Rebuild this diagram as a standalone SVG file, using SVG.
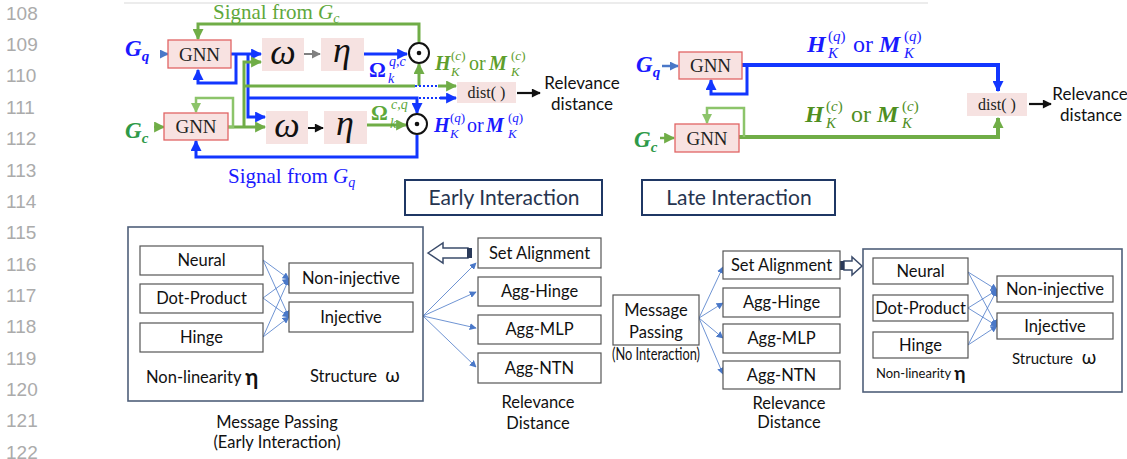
<svg xmlns="http://www.w3.org/2000/svg" width="1127" height="459" viewBox="0 0 1127 459">
<style>
.ln{font-family:"Liberation Sans",Arial,sans-serif;font-size:19px;fill:#ababab}
.gnnbox{fill:#f8e2e1;stroke:#e06464;stroke-width:1.3}
.opbox{fill:#f6e2e1}
.gnn{font-family:"Liberation Serif",serif;font-size:19px;fill:#222;text-anchor:middle}
.greek{font-family:"Liberation Serif",serif;font-style:italic;font-size:36px;fill:#111;text-anchor:middle}
.blue{fill:none;stroke:#1236ff;stroke-width:3}
.green{fill:none;stroke:#70ad47;stroke-width:3}
.lgreen{fill:none;stroke:#8cc46a;stroke-width:2.5}
.bluethick{fill:none;stroke:#1236ff;stroke-width:4}
.greenthick{fill:none;stroke:#70ad47;stroke-width:4}
.sans{font-family:Lato,"Open Sans",sans-serif;fill:#111}
.box{fill:#fff;stroke:#555;stroke-width:1.2}
.frame{fill:none;stroke:#4f5f7a;stroke-width:1.6}
.thin{fill:none;stroke:#4a78c8;stroke-width:0.8}
.lbl{font-family:Lato,"Open Sans",sans-serif;font-size:16.5px;fill:#111;text-anchor:middle}
.hdr{font-family:Lato,"Open Sans",sans-serif;font-size:21px;fill:#26344f;text-anchor:middle}
</style>
<defs>
<marker id="ab" viewBox="0 0 10 10" refX="9" refY="5" markerUnits="userSpaceOnUse" markerWidth="11" markerHeight="11" orient="auto"><path d="M0,0 L10,5 L0,10 z" fill="#1236ff"/></marker>
<marker id="ag" viewBox="0 0 10 10" refX="9" refY="5" markerUnits="userSpaceOnUse" markerWidth="11" markerHeight="11" orient="auto"><path d="M0,0 L10,5 L0,10 z" fill="#70ad47"/></marker>
<marker id="alg" viewBox="0 0 10 10" refX="9" refY="5" markerUnits="userSpaceOnUse" markerWidth="10" markerHeight="10" orient="auto"><path d="M0,0 L10,5 L0,10 z" fill="#8cc46a"/></marker>
<marker id="ak" viewBox="0 0 10 10" refX="9" refY="5" markerUnits="userSpaceOnUse" markerWidth="10" markerHeight="9" orient="auto"><path d="M0,0 L10,5 L0,10 z" fill="#111"/></marker>
<marker id="agr" viewBox="0 0 10 10" refX="9" refY="5" markerUnits="userSpaceOnUse" markerWidth="9" markerHeight="9" orient="auto"><path d="M0,0 L10,5 L0,10 z" fill="#808080"/></marker>
<marker id="as" viewBox="0 0 10 10" refX="9" refY="5" markerUnits="userSpaceOnUse" markerWidth="9" markerHeight="9" orient="auto"><path d="M0,0 L10,5 L0,10 z" fill="#4a78c8"/></marker>
<marker id="at" viewBox="0 0 10 10" refX="9" refY="5" markerUnits="userSpaceOnUse" markerWidth="7" markerHeight="7" orient="auto"><path d="M0,0 L10,5 L0,10 z" fill="#4a78c8"/></marker>
</defs>

<rect width="1127" height="459" fill="#fff"/>
<line x1="124" y1="3" x2="928" y2="3" stroke="#ececec" stroke-width="2"/>

<g id="line-numbers">
<text class="ln" x="6" y="20">108</text>
<text class="ln" x="6" y="51">109</text>
<text class="ln" x="6" y="82">110</text>
<text class="ln" x="6" y="114">111</text>
<text class="ln" x="6" y="145">112</text>
<text class="ln" x="6" y="177">113</text>
<text class="ln" x="6" y="208">114</text>
<text class="ln" x="6" y="239">115</text>
<text class="ln" x="6" y="271">116</text>
<text class="ln" x="6" y="302">117</text>
<text class="ln" x="6" y="333">118</text>
<text class="ln" x="6" y="365">119</text>
<text class="ln" x="6" y="396">120</text>
<text class="ln" x="6" y="427">121</text>
<text class="ln" x="6" y="459">122</text>
</g>

<!-- ================= Top-left: early interaction pipeline ================= -->
<g id="tl-connectors">
<path class="green" d="M419,42 V24 H198 V39" marker-end="url(#ag)"/>
<line x1="160" y1="54" x2="168" y2="54" stroke="#4a78c8" stroke-width="2.5" marker-end="url(#as)"/>
<line class="blue" x1="231" y1="54" x2="261" y2="54" marker-end="url(#ab)"/>
<path class="blue" d="M236,54 V83 H198 V70" marker-end="url(#ab)"/>
<path class="blue" d="M248,54 V117 H265" marker-end="url(#ab)"/>
<path class="blue" d="M248,98 H417 V113" marker-end="url(#ab)"/>
<line x1="419" y1="98" x2="440" y2="98" stroke="#1236ff" stroke-width="2" stroke-dasharray="2,2"/>
<line class="blue" x1="440" y1="98" x2="456" y2="98" marker-end="url(#ab)"/>
<path class="green" d="M244,127 V62 H261" marker-end="url(#ag)"/>
<path class="green" d="M244,86 H415"/>
<line class="green" x1="419" y1="86" x2="419" y2="64" marker-end="url(#ag)"/>
<line x1="415" y1="86" x2="438" y2="86" stroke="#1236ff" stroke-width="2" stroke-dasharray="2,2"/>
<line class="green" x1="438" y1="86" x2="456" y2="86" marker-end="url(#ag)"/>
<line x1="304" y1="54" x2="320" y2="54" stroke="#808080" stroke-width="2" marker-end="url(#agr)"/>
<line x1="308" y1="128" x2="323" y2="128" stroke="#111" stroke-width="2" marker-end="url(#ak)"/>
<line class="blue" x1="364" y1="54" x2="407" y2="54" marker-end="url(#ab)"/>
<line class="green" x1="367" y1="125" x2="406" y2="125" marker-end="url(#ag)"/>
<line x1="154" y1="127" x2="164" y2="127" stroke="#70ad47" stroke-width="2.5" marker-end="url(#ag)"/>
<line class="green" x1="228" y1="127" x2="265" y2="127" marker-end="url(#ag)"/>
<path class="lgreen" d="M228,127 H233 V98 H196 V112" marker-end="url(#alg)"/>
<path class="blue" d="M417,135 V157 H196 V141" marker-end="url(#ab)"/>
<line x1="517" y1="93" x2="540" y2="93" stroke="#111" stroke-width="2.2" marker-end="url(#ak)"/>
</g>

<g id="tl-signal-gc"><text x="213" y="19" font-family="Liberation Serif" font-size="21" fill="#5fa83c">Signal from <tspan font-style="italic">G</tspan><tspan font-size="14" font-style="italic" dy="4">c</tspan></text></g>
<g id="tl-gq"><text x="125" y="56" font-family="Liberation Serif" font-size="23" font-weight="bold" font-style="italic" fill="#1a1aff">G<tspan font-size="15" dy="5">q</tspan></text></g>
<g id="tl-gnn-q"><rect class="gnnbox" x="168" y="40" width="63" height="28"/><text class="gnn" x="199.5" y="61">GNN</text></g>
<g id="tl-omega-q"><rect class="opbox" x="262" y="38" width="42" height="33"/><text class="greek" x="283" y="64">ω</text></g>
<g id="tl-eta-q"><rect class="opbox" x="321" y="38" width="43" height="33"/><text class="greek" x="342" y="62">η</text></g>
<g id="tl-odot-top"><circle cx="419" cy="53" r="10" fill="#fff" stroke="#111" stroke-width="2"/><circle cx="419" cy="53" r="2.3" fill="#111"/></g>
<g id="tl-omega-qc-label"><text x="369" y="77" font-family="Liberation Serif" font-size="21" font-weight="bold" fill="#1a1aff">Ω<tspan x="389" y="66" font-size="14" font-style="italic" font-weight="normal">q,c</tspan><tspan x="388" y="83" font-size="14" font-style="italic" font-weight="normal">k</tspan></text></g>
<g id="tl-hc-label"><text x="435" y="70" font-family="Liberation Serif" font-size="20" fill="#5e9e2c"><tspan font-weight="bold" font-style="italic">H</tspan><tspan x="451" y="60" font-size="13">(<tspan font-style="italic">c</tspan>)</tspan><tspan x="451" y="76" font-size="13" font-style="italic">K</tspan><tspan x="469" y="70">or</tspan><tspan x="489" y="70" font-weight="bold" font-style="italic">M</tspan><tspan x="511" y="60" font-size="13">(<tspan font-style="italic">c</tspan>)</tspan><tspan x="511" y="76" font-size="13" font-style="italic">K</tspan></text></g>
<g id="tl-dist"><rect class="opbox" x="457" y="82" width="59" height="21"/><text x="486.5" y="98" font-family="Liberation Serif" font-size="16" fill="#222" text-anchor="middle">dist( )</text></g>
<g id="tl-relevance"><text class="sans" x="582" y="89" font-size="17" text-anchor="middle">Relevance</text><text class="sans" x="582" y="110" font-size="17" text-anchor="middle">distance</text></g>
<g id="tl-gc"><text x="125" y="138" font-family="Liberation Serif" font-size="23" font-weight="bold" font-style="italic" fill="#2e9a48">G<tspan font-size="15" dy="5">c</tspan></text></g>
<g id="tl-gnn-c"><rect class="gnnbox" x="164" y="113" width="64" height="27"/><text class="gnn" x="196" y="133">GNN</text></g>
<g id="tl-omega-c"><rect class="opbox" x="266" y="111" width="42" height="33"/><text class="greek" x="287" y="137">ω</text></g>
<g id="tl-eta-c"><rect class="opbox" x="324" y="111" width="43" height="33"/><text class="greek" x="345" y="135">η</text></g>
<g id="tl-odot-bottom"><circle cx="417" cy="124" r="10" fill="#fff" stroke="#111" stroke-width="2"/><circle cx="417" cy="124" r="2.3" fill="#111"/></g>
<g id="tl-omega-cq-label"><text x="371" y="120" font-family="Liberation Serif" font-size="21" font-weight="bold" fill="#5ea83a">Ω<tspan x="391" y="109" font-size="14" font-style="italic" font-weight="normal">c,q</tspan><tspan x="390" y="128" font-size="14" font-style="italic" font-weight="normal">k</tspan></text></g>
<g id="tl-hq-label"><text x="434" y="132" font-family="Liberation Serif" font-size="20" fill="#1a1aff"><tspan font-weight="bold" font-style="italic">H</tspan><tspan x="450" y="122" font-size="13">(<tspan font-style="italic">q</tspan>)</tspan><tspan x="450" y="138" font-size="13" font-style="italic">K</tspan><tspan x="467" y="132">or</tspan><tspan x="486" y="132" font-weight="bold" font-style="italic">M</tspan><tspan x="508" y="122" font-size="13">(<tspan font-style="italic">q</tspan>)</tspan><tspan x="508" y="138" font-size="13" font-style="italic">K</tspan></text></g>
<g id="tl-signal-gq"><text x="228" y="183" font-family="Liberation Serif" font-size="21" fill="#1a1aff">Signal from <tspan font-style="italic">G</tspan><tspan font-size="14" font-style="italic" dy="4">q</tspan></text></g>

<!-- ================= Top-right: late interaction ================= -->
<g id="tr-connectors">
<line x1="662" y1="66" x2="678" y2="66" stroke="#4a78c8" stroke-width="2.5" marker-end="url(#as)"/>
<path class="bluethick" d="M742,65 H998 V91" marker-end="url(#ab)"/>
<path class="blue" d="M747,65 V94 H711 V80" marker-end="url(#ab)"/>
<line x1="660" y1="138" x2="674" y2="138" stroke="#70ad47" stroke-width="2.5" marker-end="url(#ag)"/>
<path class="greenthick" d="M739,137 H998 V118" marker-end="url(#ag)"/>
<path class="lgreen" d="M744,137 V108 H707 V123" marker-end="url(#alg)"/>
<line x1="1029" y1="104" x2="1051" y2="104" stroke="#111" stroke-width="2.2" marker-end="url(#ak)"/>
</g>
<g id="tr-gq"><text x="636" y="72" font-family="Liberation Serif" font-size="23" font-weight="bold" font-style="italic" fill="#1a1aff">G<tspan font-size="15" dy="5">q</tspan></text></g>
<g id="tr-gnn-q"><rect class="gnnbox" x="679" y="52" width="63" height="27"/><text class="gnn" x="710.5" y="72">GNN</text></g>
<g id="tr-hq-label"><text x="807" y="52" font-family="Liberation Serif" font-size="24" fill="#1a1aff"><tspan font-weight="bold" font-style="italic">H</tspan><tspan x="828" y="41" font-size="15">(<tspan font-style="italic">q</tspan>)</tspan><tspan x="828" y="58" font-size="15" font-style="italic">K</tspan><tspan x="853" y="52">or</tspan><tspan x="879" y="52" font-weight="bold" font-style="italic">M</tspan><tspan x="904" y="41" font-size="15">(<tspan font-style="italic">q</tspan>)</tspan><tspan x="904" y="58" font-size="15" font-style="italic">K</tspan></text></g>
<g id="tr-gc"><text x="634" y="147" font-family="Liberation Serif" font-size="23" font-weight="bold" font-style="italic" fill="#2e9a48">G<tspan font-size="15" dy="5">c</tspan></text></g>
<g id="tr-gnn-c"><rect class="gnnbox" x="675" y="124" width="64" height="28"/><text class="gnn" x="707" y="145">GNN</text></g>
<g id="tr-hc-label"><text x="805" y="122" font-family="Liberation Serif" font-size="24" fill="#4f8f1f"><tspan font-weight="bold" font-style="italic">H</tspan><tspan x="826" y="111" font-size="15">(<tspan font-style="italic">c</tspan>)</tspan><tspan x="826" y="128" font-size="15" font-style="italic">K</tspan><tspan x="851" y="122">or</tspan><tspan x="877" y="122" font-weight="bold" font-style="italic">M</tspan><tspan x="902" y="111" font-size="15">(<tspan font-style="italic">c</tspan>)</tspan><tspan x="902" y="128" font-size="15" font-style="italic">K</tspan></text></g>
<g id="tr-dist"><rect class="opbox" x="967" y="93" width="60" height="23"/><text x="997" y="110" font-family="Liberation Serif" font-size="16" fill="#222" text-anchor="middle">dist( )</text></g>
<g id="tr-relevance"><text class="sans" x="1090" y="100" font-size="17" text-anchor="middle">Relevance</text><text class="sans" x="1091" y="121" font-size="17" text-anchor="middle">distance</text></g>

<!-- ================= Headers ================= -->
<g id="early-interaction"><rect x="405" y="180" width="197" height="35" fill="#fff" stroke="#1f3764" stroke-width="2"/><text class="hdr" x="504" y="205">Early Interaction</text></g>
<g id="late-interaction"><rect x="642" y="180" width="193" height="35" fill="#fff" stroke="#1f3764" stroke-width="2"/><text class="hdr" x="739" y="205">Late Interaction</text></g>

<!-- ================= Bottom-left: early interaction taxonomy ================= -->
<g id="bl-connectors">
<line class="thin" x1="263" y1="260" x2="289" y2="279" marker-end="url(#at)"/>
<line class="thin" x1="263" y1="260" x2="289" y2="317" marker-end="url(#at)"/>
<line class="thin" x1="263" y1="298" x2="289" y2="279" marker-end="url(#at)"/>
<line class="thin" x1="263" y1="298" x2="289" y2="317" marker-end="url(#at)"/>
<line class="thin" x1="263" y1="337" x2="289" y2="279" marker-end="url(#at)"/>
<line class="thin" x1="263" y1="337" x2="289" y2="317" marker-end="url(#at)"/>
<line class="thin" x1="423" y1="316" x2="476" y2="263" marker-end="url(#at)"/>
<line class="thin" x1="423" y1="316" x2="476" y2="292" marker-end="url(#at)"/>
<line class="thin" x1="423" y1="316" x2="476" y2="328" marker-end="url(#at)"/>
<line class="thin" x1="423" y1="316" x2="476" y2="367" marker-end="url(#at)"/>
<path d="M428,253 L443,243 V248 H468 V258 H443 V263 Z" fill="#fff" stroke="#3b4c6b" stroke-width="1.5"/>
<rect x="467" y="248" width="5" height="10" fill="#2a3a5a"/>
</g>
<g id="bl-frame"><rect class="frame" x="128" y="227" width="295" height="174"/></g>
<g id="bl-neural"><rect class="box" x="140" y="246" width="123" height="29"/><text class="lbl" x="201.5" y="266">Neural</text></g>
<g id="bl-dot"><rect class="box" x="140" y="284" width="123" height="29"/><text class="lbl" x="201.5" y="304">Dot-Product</text></g>
<g id="bl-hinge"><rect class="box" x="140" y="323" width="123" height="29"/><text class="lbl" x="201.5" y="343">Hinge</text></g>
<g id="bl-noninj"><rect class="box" x="289" y="263" width="124" height="30"/><text class="lbl" x="351" y="284">Non-injective</text></g>
<g id="bl-inj"><rect class="box" x="289" y="302" width="124" height="30"/><text class="lbl" x="351" y="323">Injective</text></g>
<g id="bl-nonlin"><text class="sans" x="146" y="383" font-size="16.5">Non-linearity <tspan font-size="22" font-weight="bold" dy="2">η</tspan></text></g>
<g id="bl-structure"><text class="sans" x="310" y="382" font-size="16.5">Structure <tspan dx="4" font-size="19">ω</tspan></text></g>
<g id="bl-caption"><text class="lbl" x="277" y="428">Message Passing</text><text class="lbl" x="277" y="448">(Early Interaction)</text></g>
<g id="bl-setalign"><rect class="box" x="478" y="238" width="123" height="30"/><text class="lbl" x="539.5" y="259">Set Alignment</text></g>
<g id="bl-agghinge"><rect class="box" x="478" y="277" width="123" height="29"/><text class="lbl" x="539.5" y="297">Agg-Hinge</text></g>
<g id="bl-aggmlp"><rect class="box" x="478" y="315" width="123" height="29"/><text class="lbl" x="539.5" y="335">Agg-MLP</text></g>
<g id="bl-aggntn"><rect class="box" x="478" y="353" width="123" height="30"/><text class="lbl" x="539.5" y="374">Agg-NTN</text></g>
<g id="bl-reldist"><text class="lbl" x="538" y="408" font-size="17">Relevance</text><text class="lbl" x="538" y="429" font-size="17">Distance</text></g>

<!-- ================= Bottom-right: late interaction taxonomy ================= -->
<g id="br-connectors">
<line class="thin" x1="699" y1="318" x2="723" y2="267" marker-end="url(#at)"/>
<line class="thin" x1="699" y1="318" x2="723" y2="303" marker-end="url(#at)"/>
<line class="thin" x1="699" y1="318" x2="723" y2="338" marker-end="url(#at)"/>
<line class="thin" x1="699" y1="318" x2="723" y2="374" marker-end="url(#at)"/>
<line class="thin" x1="968" y1="272" x2="997" y2="290" marker-end="url(#at)"/>
<line class="thin" x1="968" y1="272" x2="997" y2="326" marker-end="url(#at)"/>
<line class="thin" x1="968" y1="308" x2="997" y2="290" marker-end="url(#at)"/>
<line class="thin" x1="968" y1="308" x2="997" y2="326" marker-end="url(#at)"/>
<line class="thin" x1="968" y1="345" x2="997" y2="290" marker-end="url(#at)"/>
<line class="thin" x1="968" y1="345" x2="997" y2="326" marker-end="url(#at)"/>
<path d="M862,266 L852,257 V261 H844 V270 H852 V275 Z" fill="#fff" stroke="#3b4c6b" stroke-width="1.5"/>
<rect x="840" y="261" width="4" height="9" fill="#2a3a5a"/>
</g>
<g id="br-msgpass"><rect class="box" x="613" y="295" width="86" height="50"/><text class="lbl" x="656" y="316" font-size="17">Message</text><text class="lbl" x="656" y="338" font-size="17">Passing</text></g>
<g id="br-nointer"><text class="lbl" x="656" y="360" font-size="12" textLength="88" lengthAdjust="spacingAndGlyphs">(No Interaction)</text></g>
<g id="br-setalign"><rect class="box" x="723" y="251" width="117" height="28"/><text class="lbl" x="781.5" y="271">Set Alignment</text></g>
<g id="br-agghinge"><rect class="box" x="723" y="288" width="117" height="29"/><text class="lbl" x="781.5" y="308">Agg-Hinge</text></g>
<g id="br-aggmlp"><rect class="box" x="723" y="324" width="117" height="29"/><text class="lbl" x="781.5" y="344">Agg-MLP</text></g>
<g id="br-aggntn"><rect class="box" x="723" y="361" width="117" height="28"/><text class="lbl" x="781.5" y="381">Agg-NTN</text></g>
<g id="br-reldist"><text class="lbl" x="789" y="409" font-size="15">Relevance</text><text class="lbl" x="789" y="428" font-size="15">Distance</text></g>
<g id="br-frame"><rect class="frame" x="863" y="249" width="259" height="143"/></g>
<g id="br-neural"><rect class="box" x="873" y="258" width="95" height="26"/><text class="lbl" x="920.5" y="277" font-size="15">Neural</text></g>
<g id="br-dot"><rect class="box" x="873" y="295" width="95" height="26"/><text class="lbl" x="920.5" y="314" font-size="15">Dot-Product</text></g>
<g id="br-hinge"><rect class="box" x="873" y="332" width="95" height="26"/><text class="lbl" x="920.5" y="351" font-size="15">Hinge</text></g>
<g id="br-noninj"><rect class="box" x="997" y="276" width="116" height="26"/><text class="lbl" x="1055" y="295" font-size="15">Non-injective</text></g>
<g id="br-inj"><rect class="box" x="997" y="313" width="116" height="26"/><text class="lbl" x="1055" y="332" font-size="15">Injective</text></g>
<g id="br-nonlin"><text class="sans" x="876" y="378" font-size="13">Non-linearity <tspan font-size="19" font-weight="bold" dy="2">η</tspan></text></g>
<g id="br-structure"><text class="sans" x="1012" y="364" font-size="15">Structure <tspan dx="5" font-size="19">ω</tspan></text></g>
</svg>
